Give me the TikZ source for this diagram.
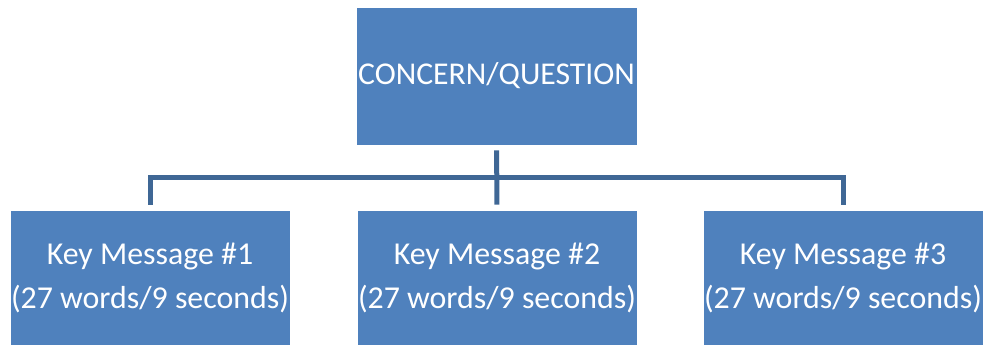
\documentclass[tikz,border=0pt]{standalone}
\usepackage{fontspec}
\setmainfont{Carlito}
\usetikzlibrary{positioning,calc}
\definecolor{BoxBlue}{HTML}{4F81BD}
\definecolor{LinkBlue}{HTML}{3F6795}

\begin{document}
\begin{tikzpicture}[x=0.75pt,y=-0.75pt,
  topbox/.style={fill=BoxBlue,draw=white,line width=0.5pt,inner sep=0pt,text=white,
    minimum width=210.75pt,minimum height=103.5pt,font=\fontsize{23.8}{28}\selectfont},
  msgbox/.style={fill=BoxBlue,draw=white,line width=0.5pt,inner sep=0pt,text=white,align=center,
    minimum width=210pt,minimum height=101.25pt,font=\fontsize{23.9}{33}\selectfont},
  link/.style={draw=LinkBlue,line width=3.75pt,shorten <=3.75pt,shorten >=3.75pt}]
\useasboundingbox (0,0) rectangle (984,345);
% boxes
\node[topbox] (concern) at (496.5,76) {CONCERN/QUESTION};
\node[msgbox] (msg1) at (150,277.5) {Key Message \#1\\(27 words/9 seconds)};
\node[msgbox] (msg2) at (497,277.5) {Key Message \#2\\(27 words/9 seconds)};
\node[msgbox] (msg3) at (843,277.5) {Key Message \#3\\(27 words/9 seconds)};
% connectors
\coordinate (bar) at (497,177.5);
\draw[link] (concern) -- (msg2);
\draw[link] (msg1.north) |- (bar) -| (msg3.north);
\end{tikzpicture}
\end{document}
